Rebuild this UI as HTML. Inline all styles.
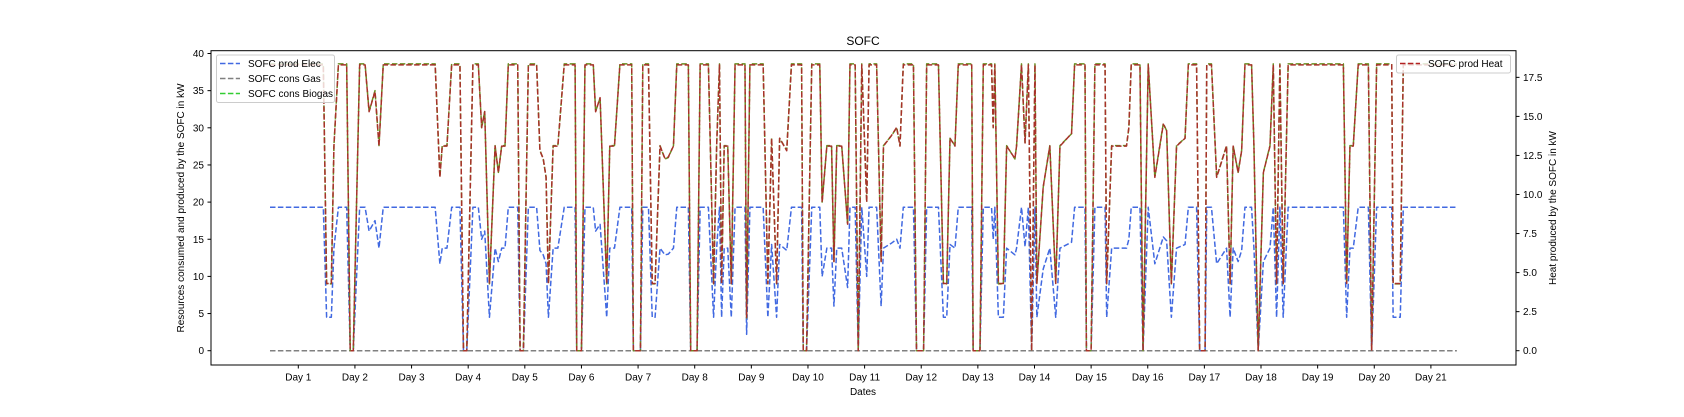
<!DOCTYPE html>
<html><head><meta charset="utf-8"><style>
html,body{margin:0;padding:0;background:#fff;}
svg{display:block;font-family:"Liberation Sans","DejaVu Sans",sans-serif;}
</style></head><body>
<svg id="chart" width="1684" height="417" viewBox="0 0 1684 417" xmlns="http://www.w3.org/2000/svg">
<rect x="0" y="0" width="1684" height="417" fill="#fff"/>
<g id="plot"></g>
<rect x="211" y="50.7" width="1305" height="314.3" fill="none" stroke="#000" stroke-width="1"/>
<g id="axes"></g>
<text x="863" y="45" text-anchor="middle" font-size="12" fill="#000">SOFC</text>
<text x="863" y="395" text-anchor="middle" font-size="10" fill="#000">Dates</text>
<text transform="translate(184,208) rotate(-90)" text-anchor="middle" font-size="10" fill="#000">Resources consumed and produced by the SOFC in kW</text>
<text transform="translate(1556,208) rotate(-90)" text-anchor="middle" font-size="10" fill="#000">Heat produced by the SOFC in kW</text>
<g>
<rect x="216.5" y="55" width="118" height="47.5" rx="2" fill="#fff" fill-opacity="0.8" stroke="#ccc"/>
<g><line x1="220" y1="63.5" x2="240" y2="63.5" stroke="#4169e1" stroke-width="1.5" stroke-dasharray="5.5,2.4"/><text x="248" y="67" font-size="10" fill="#000">SOFC prod Elec</text></g>
<g><line x1="220" y1="78.5" x2="240" y2="78.5" stroke="#808080" stroke-width="1.5" stroke-dasharray="5.5,2.4"/><text x="248" y="82" font-size="10" fill="#000">SOFC cons Gas</text></g>
<g><line x1="220" y1="93.5" x2="240" y2="93.5" stroke="#32cd32" stroke-width="1.5" stroke-dasharray="5.5,2.4"/><text x="248" y="97" font-size="10" fill="#000">SOFC cons Biogas</text></g>
</g>
<g>
<rect x="1396.5" y="55" width="114" height="18" rx="2" fill="#fff" fill-opacity="0.8" stroke="#ccc"/>
<g><line x1="1400" y1="63.5" x2="1420" y2="63.5" stroke="#b22222" stroke-width="1.5" stroke-dasharray="5.5,2.4"/><text x="1428" y="67" font-size="10" fill="#000">SOFC prod Heat</text></g>
</g>
</svg>
<script>
const hours=[0,22.6,24,26,27.1,29,32.5,34,35.3,38,40.3,42,44.5,46.2,48,70,72,73,75,77,80.5,82,83.4,86,88.3,89.7,91,93,95.4,96.8,98.2,99.6,101,105,106,107.4,109.5,113,114.4,115.8,117,118,120,122,124.7,129.3,130,132,133.5,137,138,139.9,142.7,144,146,148.3,153.3,154,157,158,160.4,162,163.2,165.3,167.4,168.8,171,172.4,177.3,178.3,181,182.3,185.8,188,189.3,190.5,191.4,192.5,194,195.5,197.1,201.3,202,203.4,209,211,212.6,214.7,216,219,221,225.3,226,227.4,229.6,233,234,236,238,239,240.2,242.3,244.8,245.8,248,249.3,250.8,252.9,253.9,257.1,259,260,263.5,265.6,267,268.4,272.7,274,277,278.3,283.3,285.4,286.8,288.2,290.3,291.7,297.4,298,300.9,302.3,305.8,306.5,307.2,308.7,310.8,312.2,315.7,316.4,318.5,320,321.4,322.8,324.2,325,327.7,330.5,333,334.8,339.7,341,345.4,346,348,349.6,353.9,354.6,356.7,363,364,365,368.7,370,372.2,375,378.6,380,382,384.2,387.8,389.2,392.7,394,396.3,397,399,401.2,405.4,406.9,408.2,410.3,411.8,413.2,416,417,418.8,421,423.8,425.2,426.6,428,429.4,431.5,454.9,456.3,457.7,459.1,461.2,465.5,466.9,469,475.4,476,479,480.3,503];
const elecValues=[19.3,19.3,4.5,4.5,13.8,19.3,19.3,0,0,19.3,19.3,16.1,17.5,13.8,19.3,19.3,11.7,13.8,13.8,19.3,19.3,0,0,19.3,19.3,15,16.1,4.5,13.8,12,13.8,13.8,19.3,19.3,0,0,19.3,19.3,13.5,12.9,11.7,4.5,13.8,13.8,19.3,19.3,0,0,19.3,19.3,16.1,17,4.5,13.8,13.8,19.3,19.3,0,0,19.3,19.3,4.5,4.5,13.8,12.9,13,13.8,19.3,19.3,0,0,19.3,19.3,4.5,13.8,19.3,4.5,13.8,13.8,4.5,19.3,19.3,2.2,19.3,19.3,4.5,14.3,4.5,14.3,13.5,19.3,19.3,0,0,19.3,19.3,10,13.8,13.8,6,13.8,13.8,8.5,19.3,19.3,0,19.3,10,19.3,19.3,6,13.8,14.5,15,13.8,19.3,19.3,0,0,19.3,19.3,4.5,4.5,14.3,13.8,19.3,19.3,0,0,19.3,19.3,15,19.3,4.5,4.5,13.8,12.9,13.8,19.3,14,19.3,0,19.3,4.5,11,13.8,4.5,13.8,14.6,19.3,19.3,0,0,19.3,19.3,4.5,13.8,13.8,15,19.3,19.3,0,19.3,11.7,15.3,14.8,4.5,13.8,14.3,19.3,19.3,0,0,19.3,19.3,11.7,13.8,4.5,13.8,12,13.5,19.3,19.3,13.8,0,12,13.8,19.3,4.5,19.3,4.5,19.3,19.3,4.5,13.8,13.8,19.3,19.3,0,19.3,19.3,4.5,4.5,19.3,19.3];
const gasValues=[0,0];
const gasHours=[0,503];
const biogasValues=[38.6,38.6,9,9,27.6,38.6,38.6,0,0,38.6,38.6,32.2,35,27.6,38.6,38.6,23.4,27.6,27.6,38.6,38.6,0,0,38.6,38.6,30,32.2,9,27.6,24,27.6,27.6,38.6,38.6,0,0,38.6,38.6,27,25.8,23.4,9,27.6,27.6,38.6,38.6,0,0,38.6,38.6,32.2,34,9,27.6,27.6,38.6,38.6,0,0,38.6,38.6,9,9,27.6,25.8,26,27.6,38.6,38.6,0,0,38.6,38.6,9,27.6,38.6,9,27.6,27.6,9,38.6,38.6,4.4,38.6,38.6,9,28.6,9,28.6,27,38.6,38.6,0,0,38.6,38.6,20,27.6,27.6,12,27.6,27.6,17,38.6,38.6,0,38.6,20,38.6,38.6,12,27.6,29,30,27.6,38.6,38.6,0,0,38.6,38.6,9,9,28.6,27.6,38.6,38.6,0,0,38.6,38.6,30,38.6,9,9,27.6,25.8,27.6,38.6,28,38.6,0,38.6,9,22,27.6,9,27.6,29.2,38.6,38.6,0,0,38.6,38.6,9,27.6,27.6,30,38.6,38.6,0,38.6,23.4,30.6,29.6,9,27.6,28.6,38.6,38.6,0,0,38.6,38.6,23.4,27.6,9,27.6,24,27,38.6,38.6,27.6,0,24,27.6,38.6,9,38.6,9,38.6,38.6,9,27.6,27.6,38.6,38.6,0,38.6,38.6,9,9,38.6,38.6];
const heatValues=[18.3,18.3,4.3,4.3,13.1,18.3,18.3,0,0,18.3,18.3,15.3,16.6,13.1,18.3,18.3,11.1,13.1,13.1,18.3,18.3,0,0,18.3,18.3,14.3,15.3,4.3,13.1,11.4,13.1,13.1,18.3,18.3,0,0,18.3,18.3,12.8,12.3,11.1,4.3,13.1,13.1,18.3,18.3,0,0,18.3,18.3,15.3,16.2,4.3,13.1,13.1,18.3,18.3,0,0,18.3,18.3,4.3,4.3,13.1,12.3,12.4,13.1,18.3,18.3,0,0,18.3,18.3,4.3,13.1,18.3,4.3,13.1,13.1,4.3,18.3,18.3,2.1,18.3,18.3,4.3,13.6,4.3,13.6,12.8,18.3,18.3,0,0,18.3,18.3,9.5,13.1,13.1,5.7,13.1,13.1,8.1,18.3,18.3,0,18.3,9.5,18.3,18.3,5.7,13.1,13.8,14.3,13.1,18.3,18.3,0,0,18.3,18.3,4.3,4.3,13.6,13.1,18.3,18.3,0,0,18.3,18.3,14.3,18.3,4.3,4.3,13.1,12.3,13.1,18.3,13.3,18.3,0,18.3,4.3,10.5,13.1,4.3,13.1,13.9,18.3,18.3,0,0,18.3,18.3,4.3,13.1,13.1,14.3,18.3,18.3,0,18.3,11.1,14.5,14.1,4.3,13.1,13.6,18.3,18.3,0,0,18.3,18.3,11.1,13.1,4.3,13.1,11.4,12.8,18.3,18.3,13.1,0,11.4,13.1,18.3,4.3,18.3,4.3,18.3,18.3,4.3,13.1,13.1,18.3,18.3,0,18.3,18.3,4.3,4.3,18.3,18.3];
const dayLabels=["Day 1","Day 2","Day 3","Day 4","Day 5","Day 6","Day 7","Day 8","Day 9","Day 10","Day 11","Day 12","Day 13","Day 14","Day 15","Day 16","Day 17","Day 18","Day 19","Day 20","Day 21"];
const leftTicks=[0,5,10,15,20,25,30,35,40];
const rightTicks=["0.0","2.5","5.0","7.5","10.0","12.5","15.0","17.5"];
const startDay=0.5;

const NS="http://www.w3.org/2000/svg";
function xDay(d){return 298.3+(d-1)*56.63;}
function xHour(h){return xDay(startDay+h/24);}
function yLeft(v){return 350.7-v*7.43;}
function yRight(v){return 350.7-v*15.62;}
const plot=document.getElementById('plot');
const axes=document.getElementById('axes');
function mk(tag,attrs,parent){const e=document.createElementNS(NS,tag);for(const k in attrs)e.setAttribute(k,attrs[k]);parent.appendChild(e);return e;}
function series(hs,vs,yf,color,name,offset){
  let d='';
  for(let i=0;i<hs.length;i++){d+=(i?'L':'M')+xHour(hs[i]).toFixed(2)+','+yf(vs[i]).toFixed(2);}
  const p=mk('path',{d:d,fill:'none',stroke:color,'stroke-width':1.5,'stroke-dasharray':'5.5,2.4','stroke-dashoffset':offset||0,'stroke-linejoin':'round'},plot);
  
  
}
series(hours,elecValues,yLeft,'#4169e1','elec-line',0);
series(gasHours,gasValues,yLeft,'#808080','gas-line',0);
series(hours,biogasValues,yLeft,'#6b8e23','biogas-line',0);
series(hours,heatValues,yRight,'#a8322a','heat-line',0);

dayLabels.forEach((lab,i)=>{
  const x=xDay(i+1);
  const t=mk('line',{x1:x,y1:365,x2:x,y2:368.5,stroke:'#000'},axes);
  
  
  const tx=mk('text',{x:x,y:380.5,'text-anchor':'middle','font-size':10,fill:'#000'},axes);
  tx.textContent=lab;
  
  
});
leftTicks.forEach(v=>{
  const y=yLeft(v);
  const t=mk('line',{x1:207.5,y1:y,x2:211,y2:y,stroke:'#000'},axes);
  
  
  const tx=mk('text',{x:204,y:y+3.5,'text-anchor':'end','font-size':10,fill:'#000'},axes);
  tx.textContent=String(v);
  
  
});
rightTicks.forEach(s=>{
  const y=yRight(parseFloat(s));
  const t=mk('line',{x1:1516,y1:y,x2:1519.5,y2:y,stroke:'#000'},axes);
  
  
  const tx=mk('text',{x:1523,y:y+3.5,'text-anchor':'start','font-size':10,fill:'#000'},axes);
  tx.textContent=s;
  
  
});
</script>
</body></html>
